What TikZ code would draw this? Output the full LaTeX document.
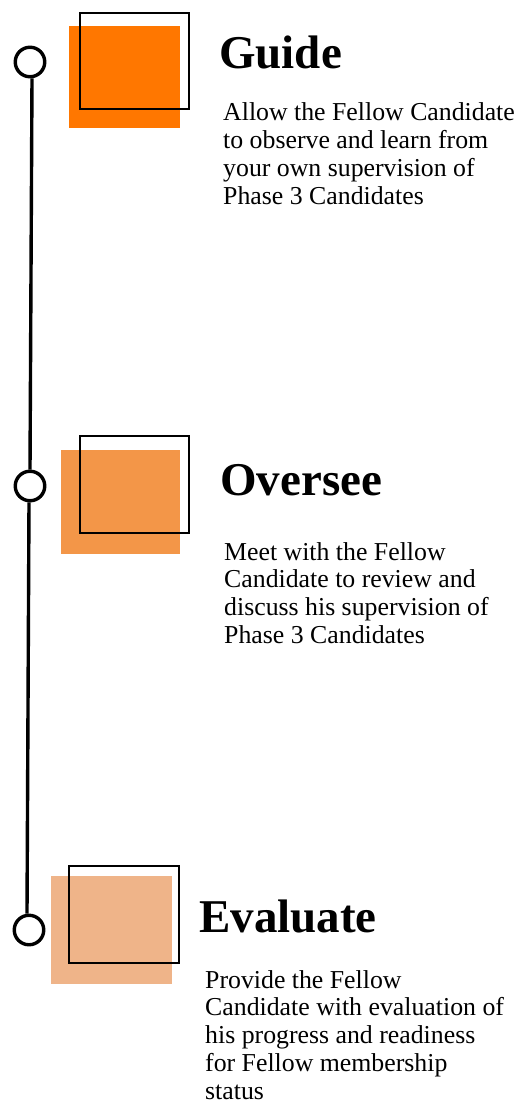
\documentclass[tikz,border=0pt]{standalone}
\usepackage{fontspec}
\setmainfont{Liberation Serif}
\definecolor{orA}{RGB}{255,119,0}
\definecolor{orB}{RGB}{243,150,72}
\definecolor{orC}{RGB}{239,180,137}
\newcommand{\bodylines}[1]{\vtop{\baselineskip=27.8pt\lineskiplimit=-10pt #1}}
\tikzset{
  dot/.style={circle, draw=black, line width=3.4pt, fill=white, minimum size=29.5pt, inner sep=0pt},
  rail/.style={line width=3.4pt, draw=black},
  frame/.style={draw=black, line width=1.6pt},
  title/.style={anchor=base west, inner sep=0pt, font=\fontsize{47}{50}\selectfont\bfseries},
  body/.style={anchor=base west, inner sep=0pt, font=\fontsize{25.8}{28}\selectfont}
}
\begin{document}
\begin{tikzpicture}[x=1pt,y=-1pt]
\useasboundingbox (0,0) rectangle (522,1105);
% squares
\fill[orA] (69,26) rectangle (180,128);
\draw[frame] (80,13) rectangle (189,109);
\fill[orB] (61,450) rectangle (180,554);
\draw[frame] (80,436) rectangle (189,533);
\fill[orC] (51,876) rectangle (172,984);
\draw[frame] (69,866) rectangle (179,963);
% timeline
\node[dot] (c1) at (30,62) {};
\node[dot] (c2) at (30,486) {};
\node[dot] (c3) at (29,930) {};
\draw[rail] ([xshift=2pt]c1.south) -- (c2.north);
\draw[rail] ([xshift=-1pt]c2.south) -- ([xshift=-2pt]c3.north);
% texts
\node[title] (t1) at (219,69) {Guide};
\node[body] (b1) at (223,121) {\bodylines{\hbox{Allow the Fellow Candidate}\hbox{to observe and learn from}\hbox{your own supervision of}\hbox{Phase 3 Candidates}}};
\node[title] (t2) at (220,495) {Oversee};
\node[body] (b2) at (224,560) {\bodylines{\hbox{Meet with the Fellow}\hbox{Candidate to review and}\hbox{discuss his supervision of}\hbox{Phase 3 Candidates}}};
\node[title] (t3) at (199,932) {Evaluate};
\node[body] (b3) at (205,988) {\bodylines{\hbox{Provide the Fellow}\hbox{Candidate with evaluation of}\hbox{his progress and readiness}\hbox{for Fellow membership}\hbox{status}}};
\end{tikzpicture}
\end{document}
